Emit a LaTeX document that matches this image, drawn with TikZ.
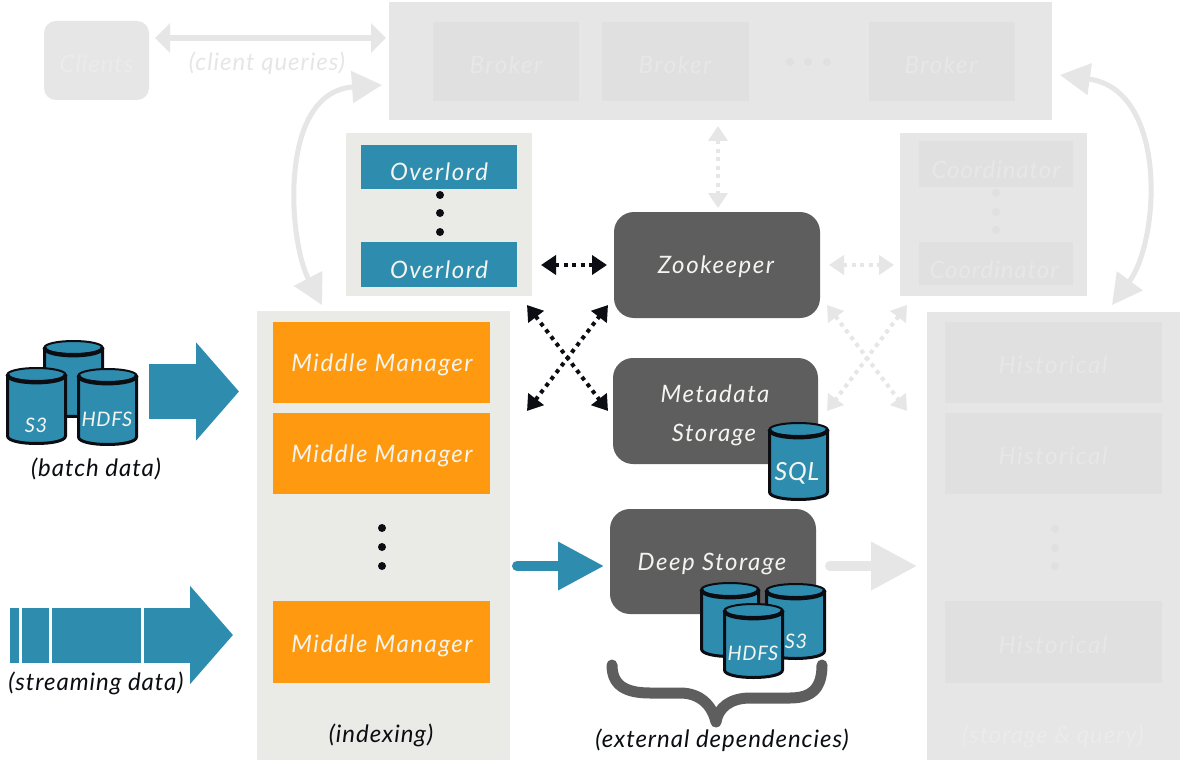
\documentclass[tikz,border=0pt]{standalone}
\usepackage{fontspec}
\setmainfont{Lato}
\usetikzlibrary{arrows.meta}
\definecolor{teal1}{HTML}{2E8DAF}
\definecolor{orange1}{HTML}{FF9A10}
\definecolor{dark1}{HTML}{5E5E5E}
\definecolor{panel1}{HTML}{EAEBE7}
\definecolor{gpanel}{HTML}{E6E6E6}
\definecolor{gbox}{HTML}{E0E0E0}
\definecolor{gtext}{HTML}{E7E7E7}
\definecolor{gtextp}{HTML}{EBEBEB}
\definecolor{ink}{HTML}{0B0D12}
\definecolor{chalk}{HTML}{F4F5F1}
\newcommand{\cyl}[4]{%
  \pgfmathsetmacro{\cl}{#1}\pgfmathsetmacro{\ct}{#2}\pgfmathsetmacro{\cr}{#3}\pgfmathsetmacro{\cb}{#4}%
  \pgfmathsetmacro{\cm}{(\cl+\cr)/2}\pgfmathsetmacro{\crx}{(\cr-\cl)/2-1.5}%
  \pgfmathsetmacro{\ea}{\ct+8.5}\pgfmathsetmacro{\eb}{\ct+19}\pgfmathsetmacro{\ba}{\cb-9}\pgfmathsetmacro{\bb}{\cb+1}%
  \draw[fill=teal1,draw=ink,line width=3pt,line join=round] (\cl+1.5,\ea) -- (\cl+1.5,\ba) .. controls (\cl+1.5,\bb) and (\cr-1.5,\bb) .. (\cr-1.5,\ba) -- (\cr-1.5,\ea) -- cycle;
  \draw[fill=teal1,draw=ink,line width=2pt] (\cm,\ea) ellipse [x radius=\crx, y radius=6.5];
  \draw[draw=ink,line width=4pt] (\cl+1.5,\ea) .. controls (\cl+1.5,\eb) and (\cr-1.5,\eb) .. (\cr-1.5,\ea);
}
\tikzset{
  x=1pt,y=-1pt,
  box/.style={inner sep=0pt,outer sep=0pt,fill=#1},
  txt/.style={inner sep=0pt,text=#1,font=\itshape\fontsize{24}{24}\selectfont\addfontfeatures{LetterSpace=6.5},anchor=center},
  lbl/.style={inner sep=0pt,text=#1,font=\itshape\fontsize{24}{24}\selectfont\addfontfeatures{LetterSpace=4},anchor=center},
  small/.style={font=\itshape\fontsize{#1}{#1}\selectfont\addfontfeatures{LetterSpace=3}},
  bigarrow/.style={draw=teal1,line width=55pt,-{Triangle[length=43pt,width=96pt]}},
  dotarrow/.style={draw=#1,line width=4pt,dash pattern=on 4pt off 4.5pt,{Triangle[length=15pt,width=19pt]}-{Triangle[length=15pt,width=19pt]}},
  curvearrow/.style={draw=gpanel,line width=5pt,{Triangle[length=30pt,width=31pt]}-{Triangle[length=30pt,width=31pt]}},
  blockarrow/.style={draw=#1,line width=10pt,-{Triangle[length=46pt,width=46pt]}},
  dotmark/.style={circle,fill=#1,inner sep=0pt,minimum size=8pt}
}
\begin{document}
\begin{tikzpicture}
\useasboundingbox (0,0) rectangle (1182,762);
\fill[white] (0,0) rectangle (1182,762);
% panels
\node[box=gpanel,rounded corners=12pt,minimum width=105pt,minimum height=79pt] (clients) at (96.5,60.5) {};
\node[box=gpanel,minimum width=663pt,minimum height=118pt] (brokers) at (720.5,61) {};
\node[box=panel1,minimum width=186pt,minimum height=163pt] (overlords) at (439,214.5) {};
\node[box=gpanel,minimum width=187pt,minimum height=163pt] (coords) at (993.5,214.5) {};
\node[box=panel1,minimum width=253pt,minimum height=449pt] (indexing) at (383.5,535.5) {};
\node[box=gpanel,minimum width=253pt,minimum height=448pt] (hist) at (1053.5,536) {};
% broker boxes
\node[box=gbox,minimum width=146pt,minimum height=79pt] (b1) at (506,61.5) {};
\node[box=gbox,minimum width=147pt,minimum height=79pt] (b2) at (675.5,61.5) {};
\node[box=gbox,minimum width=146pt,minimum height=79pt] (b3) at (942,61.5) {};
\node[txt=gtext] (t1) at (506,65) {Broker};
\node[txt=gtext] (t2) at (675,65) {Broker};
\node[txt=gtext] (t3) at (941,65) {Broker};
\foreach \n/\xx in {d1/790,d2/808,d3/827}{\node[dotmark=gbox] (\n) at (\xx,62) {};}
% overlords
\node[box=teal1,minimum width=156pt,minimum height=44pt] (o1) at (439,167) {};
\node[box=teal1,minimum width=156pt,minimum height=45pt] (o2) at (439,264.5) {};
\node[txt=chalk] (to1) at (439,172) {Overlord};
\node[txt=chalk] (to2) at (439,270) {Overlord};
\foreach \n/\yy in {od1/195,od2/213,od3/232}{\node[dotmark=ink] (\n) at (440,\yy) {};}
% coordinators
\node[box=gbox,minimum width=154pt,minimum height=46pt] (c1) at (996,164) {};
\node[box=gbox,minimum width=154pt,minimum height=43pt] (c2) at (996,263.5) {};
\node[lbl=gtext] (tc1) at (996,170) {Coordinator};
\node[lbl=gtext] (tc2) at (994,270) {Coordinator};
\foreach \n/\yy in {cd1/193,cd2/212,cd3/230}{\node[dotmark=gbox] (\n) at (996,\yy) {};}
% middle managers
\node[box=orange1,minimum width=217pt,minimum height=81pt] (m1) at (381.5,362.5) {};
\node[box=orange1,minimum width=217pt,minimum height=81pt] (m2) at (381.5,453.5) {};
\node[box=orange1,minimum width=217pt,minimum height=82pt] (m3) at (381.5,642) {};
\node[txt=chalk] (tm1) at (382,365) {Middle Manager};
\node[txt=chalk] (tm2) at (382,456) {Middle Manager};
\node[txt=chalk] (tm3) at (382,646) {Middle Manager};
\foreach \n/\yy in {md1/528,md2/547,md3/566}{\node[dotmark=ink] (\n) at (382,\yy) {};}
% historicals
\node[box=gbox,minimum width=217pt,minimum height=81pt] (h1) at (1053.5,362.5) {};
\node[box=gbox,minimum width=217pt,minimum height=81pt] (h2) at (1053.5,453.5) {};
\node[box=gbox,minimum width=217pt,minimum height=82pt] (h3) at (1053.5,642) {};
\node[txt=gtext] (th1) at (1053,365) {Historical};
\node[txt=gtext] (th2) at (1053,456) {Historical};
\node[txt=gtext] (th3) at (1053,645) {Historical};
\foreach \n/\yy in {hd1/529,hd2/548,hd3/566}{\node[dotmark=gbox] (\n) at (1055,\yy) {};}
% dependencies
\node[box=dark1,rounded corners=20pt,minimum width=206pt,minimum height=106pt] (zk) at (717,265) {};
\node[box=dark1,rounded corners=20pt,minimum width=205pt,minimum height=106pt] (meta) at (715.5,411) {};
\node[box=dark1,rounded corners=20pt,minimum width=206pt,minimum height=105pt] (deep) at (713,561.5) {};
\node[txt=chalk] (tz) at (716,267) {Zookeeper};
\node[txt=chalk] (tme) at (715,394) {Metadata};
\node[txt=chalk] (tms) at (714,435) {Storage};
\node[txt=chalk] (tds) at (712,564) {Deep Storage};
% labels
\node[lbl=gtextp] (tcl) at (96.5,64) {Clients};
\node[lbl=gpanel] (lq) at (267,63) {(client queries)};
\node[lbl=ink] (lb) at (96,469) {(batch data)};
\node[lbl=ink] (ls) at (96,683) {(streaming data)};
\node[lbl=ink] (li) at (381,735) {(indexing)};
\node[lbl=ink] (le) at (722,740) {(external dependencies)};
\node[lbl=gtextp] (lsq) at (1053,736) {(storage \& query)};
% connectors
\draw[draw=gpanel,line width=6pt,{Triangle[length=15pt,width=29pt]}-{Triangle[length=15pt,width=29pt]}] ([shift={(6,-22.5)}]clients.east) -- ([shift={(-3,-23)}]brokers.west);
\draw[curvearrow] ([shift={(-61.5,-6)}]indexing.north) .. controls (288,240) and (278,92) .. ([shift={(-7,24)}]brokers.west);
\draw[curvearrow] ([shift={(58.5,-7)}]hist.north) .. controls (1160,240) and (1168,90) .. ([shift={(8,14)}]brokers.east);
\draw[dotarrow=gpanel] ([shift={(-2.5,6)}]brokers.south) -- ([shift={(1,-4)}]zk.north);
\draw[dotarrow=gpanel] ([shift={(9,0)}]zk.east) -- ([shift={(-6,50.5)}]coords.west);
\draw[dotarrow=ink] ([shift={(9,50.5)}]overlords.east) -- ([shift={(-7,0)}]zk.west);
\draw[dotarrow=ink] ([shift={(17,-124.5)}]indexing.east) -- ([shift={(-6,40)}]zk.west);
\draw[dotarrow=ink] ([shift={(88,9)}]overlords.south) -- ([shift={(-5,0)}]meta.west);
\draw[dotarrow=gpanel] ([shift={(7,40)}]zk.east) -- ([shift={(-20,-125)}]hist.west);
\draw[dotarrow=gpanel] ([shift={(-86.5,9)}]coords.south) -- ([shift={(9,0)}]meta.east);
\draw[blockarrow=teal1,line cap=round] ([shift={(7,30.5)}]indexing.east) -- ([shift={(-6,4.5)}]deep.west);
\draw[blockarrow=gpanel,line cap=round] ([shift={(14,4.5)}]deep.east) -- ([shift={(-10,30)}]hist.west);
\coordinate (batchstart) at (149,391.5);
\coordinate (streamstart) at (10,635);
\draw[bigarrow] (batchstart) -- ([shift={(-18,-144)}]indexing.west);
\draw[bigarrow] (streamstart) -- ([shift={(-24,99.5)}]indexing.west);
\draw[white,line width=2.5pt] (20.5,606) -- (20.5,664);
\draw[white,line width=2.5pt] (50.5,606) -- (50.5,664);
\draw[white,line width=2.5pt] (142.5,606) -- (142.5,664);
% cylinders
\cyl{43}{339}{104}{418}
\cyl{6}{366}{67}{445}
\cyl{77}{367}{138}{446}
\cyl{768}{421}{829}{501}
\cyl{700}{581}{760}{658}
\cyl{765}{582}{826}{660}
\cyl{723}{602}{784}{679}
\node[inner sep=0pt,text=chalk,small=20] (ts3a) at (36,425) {S3};
\node[inner sep=0pt,text=chalk,small=20] (thd) at (107,419) {HDFS};
\node[inner sep=0pt,text=chalk,small=25] (tsq) at (797,473) {SQL};
\node[inner sep=0pt,text=chalk,small=20] (ts3b) at (796,641) {S3};
\node[inner sep=0pt,text=chalk,small=20] (thd2) at (753,653) {HDFS};
% brace
\draw[dark1,line width=11pt,line cap=round,line join=round] (612,665) .. controls (612,685) and (625,693) .. (650,693) -- (680,693) .. controls (700,693) and (712,705) .. (716,722) .. controls (718,708) and (730,698) .. (750,698) -- (790,698) .. controls (812,698) and (822,688) .. (822,665);
\end{tikzpicture}
\end{document}
